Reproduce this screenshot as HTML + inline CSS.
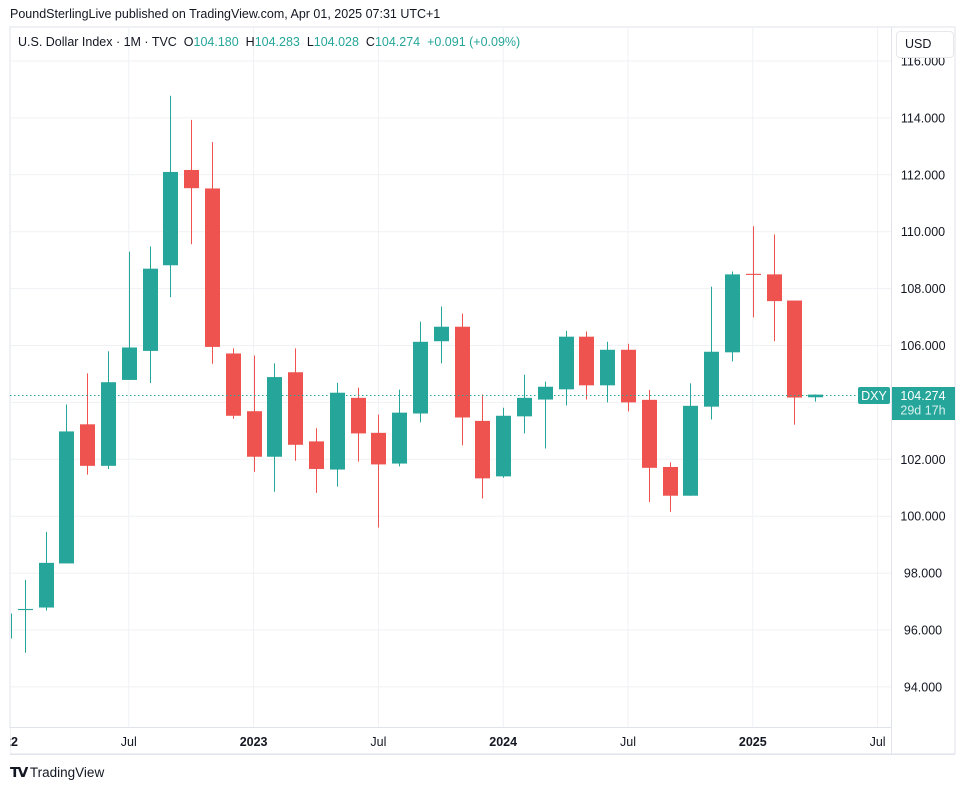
<!DOCTYPE html>
<html><head><meta charset="utf-8"><style>
body{margin:0;background:#fff;font-family:"Liberation Sans",sans-serif;}
#wrap{position:relative;width:969px;height:790px;overflow:hidden;background:#fff}
.t{position:absolute;white-space:nowrap}
</style></head><body>
<div id="wrap">
<div class="t" style="left:10px;top:7px;font-size:12.5px;color:#131722">PoundSterlingLive published on TradingView.com, Apr 01, 2025 07:31 UTC+1</div>
<svg id="c" width="969" height="790" style="position:absolute;left:0;top:0"></svg>
<div class="t" style="left:18px;top:35px;font-size:12.5px;color:#131722">U.S. Dollar Index · 1M · TVC&nbsp; O<span style="color:#26a69a">104.180</span>&nbsp; H<span style="color:#26a69a">104.283</span>&nbsp; L<span style="color:#26a69a">104.028</span>&nbsp; C<span style="color:#26a69a">104.274&nbsp; +0.091 (+0.09%)</span></div>
<div class="t" style="left:896px;top:31px;width:56px;height:25px;border:1px solid #e8e8ec;border-radius:4px;background:#fff;font-size:12.5px;color:#131722;line-height:25px;text-indent:8px">USD</div>
<div class="t" style="left:10px;top:764px;font-size:13.5px;color:#131722"><b style="font-size:14px;letter-spacing:-2px">𝗧𝗩</b> TradingView</div>
</div>
<script>
const months=["Jan22","Feb22","Mar22","Apr22","May22","Jun22","Jul22","Aug22","Sep22","Oct22","Nov22","Dec22","Jan23","Feb23","Mar23","Apr23","May23","Jun23","Jul23","Aug23","Sep23","Oct23","Nov23","Dec23","Jan24","Feb24","Mar24","Apr24","May24","Jun24","Jul24","Aug24","Sep24","Oct24","Nov24","Dec24","Jan25","Feb25","Mar25","Apr25"];
const opens=[95.7,96.7,96.79,98.34,103.23,101.77,104.79,105.81,108.82,112.17,111.52,105.72,103.69,102.09,105.06,102.63,101.64,104.16,102.93,101.85,103.61,106.15,106.66,103.35,101.4,103.51,104.1,104.46,106.31,104.6,105.85,104.09,101.73,100.72,103.85,105.76,108.52,108.5,107.58,104.18];
const highs=[96.7,97.76,99.45,103.93,105.02,105.8,109.3,109.48,114.78,113.93,113.15,105.9,105.65,105.37,105.9,103.09,104.69,104.52,103.57,104.45,106.84,107.37,107.12,104.28,103.81,104.97,104.73,106.52,106.49,106.13,106.06,104.44,101.89,104.67,108.07,108.6,110.19,109.9,107.58,104.283];
const lows=[95.6,95.2,96.68,98.34,101.46,101.66,104.79,104.68,107.7,109.56,105.36,103.42,101.56,100.86,101.95,100.82,101.04,101.92,99.6,101.75,103.3,105.37,102.49,100.62,101.35,102.91,102.38,103.89,104.1,104.0,103.68,100.5,100.15,100.72,103.4,105.44,106.99,106.15,103.22,104.028];
const closes=[96.58,96.74,98.36,102.98,101.77,104.71,105.93,108.7,112.1,111.53,105.95,103.53,102.09,104.89,102.51,101.66,104.34,102.91,101.82,103.64,106.13,106.66,103.47,101.33,103.53,104.16,104.55,106.31,104.6,105.85,104.0,101.7,100.72,103.88,105.78,108.5,108.48,107.56,104.17,104.274];
const yTicks=[116,114,112,110,108,106,104,102,100,98,96,94];
const xLabels=[{i:0,t:"2022",b:1},{i:6,t:"Jul"},{i:12,t:"2023",b:1},{i:18,t:"Jul"},{i:24,t:"2024",b:1},{i:30,t:"Jul"},{i:36,t:"2025",b:1},{i:42,t:"Jul"}];
const lastPrice=104.274;
const L=10,R=891,T=27,B=727;
const y=p=>61+(116-p)*28.45;
const x=i=>4+i*20.8;
const svg=document.getElementById('c');const NS="http://www.w3.org/2000/svg";
function mk(tag,a,parent){const e=document.createElementNS(NS,tag);for(const k in a)e.setAttribute(k,a[k]);(parent||svg).appendChild(e);return e;}
// frame
mk('rect',{x:L,y:T,width:945,height:727,fill:'none',stroke:'#e0e3eb'});
const defs=mk('defs',{});const cp=mk('clipPath',{id:'pc'},defs);mk('rect',{x:L+1,y:T,width:R-L-1,height:B-T},cp);
const grid=mk('g',{});


yTicks.forEach(p=>{mk('line',{x1:L,x2:R,y1:y(p),y2:y(p),stroke:'#f0f1f4'},grid);
 const t=mk('text',{x:923,y:y(p)+4.5,'font-size':12.5,fill:'#131722','text-anchor':'middle'});t.textContent=p.toFixed(3);
 
 });
xLabels.forEach(l=>{const xx=x(l.i);if(xx>L&&xx<R)mk('line',{x1:xx,x2:xx,y1:T,y2:B,stroke:'#f0f1f4'},grid);
 const t=mk('text',{x:xx,y:746,'font-size':12.5,fill:'#131722','text-anchor':'middle','font-weight':l.b?'bold':'normal'});t.textContent=l.t;
 
 });
mk('rect',{x:0,y:728,width:L,height:30,fill:'#fff'});
mk('rect',{x:0,y:755,width:969,height:40,fill:'#fff'});
mk('line',{x1:L,x2:R,y1:B+0.5,y2:B+0.5,stroke:'#e0e3eb'});
mk('line',{x1:R+0.5,x2:R+0.5,y1:T,y2:754,stroke:'#e0e3eb'});
mk('line',{x1:L,x2:955,y1:754.5,y2:754.5,stroke:'#e0e3eb'});
// candles
const cg=mk('g',{'clip-path':'url(#pc)'});


months.forEach((m,i)=>{const up=closes[i]>=opens[i];const col=up?'#26a69a':'#ef5350';const cx=Math.round(x(i))+0.5;
 const g=mk('g',{},cg);
 
 
 mk('line',{x1:cx,x2:cx,y1:y(highs[i]),y2:y(lows[i]),stroke:col,'stroke-width':1},g);
 const t=y(Math.max(opens[i],closes[i])),b=y(Math.min(opens[i],closes[i]));
 mk('rect',{x:cx-7.5,y:t,width:15,height:Math.max(1,b-t),fill:col},g);});
// last price line
const ly=Math.round(y(lastPrice))+0.5;
const pl=mk('line',{x1:L,x2:857,y1:ly,y2:ly,stroke:'#26a69a','stroke-dasharray':'1.5 2.5'});


const sb=mk('rect',{x:858,y:ly-8.5,width:32,height:17,fill:'#26a69a',rx:2});


const st=mk('text',{x:874,y:ly+4.5,'font-size':12.5,fill:'#fff','text-anchor':'middle'});st.textContent='DXY';
const pb=mk('rect',{x:892,y:ly-8.5,width:63,height:33,fill:'#26a69a'});


const pt=mk('text',{x:923,y:ly+4.5,'font-size':12.5,fill:'#fff','text-anchor':'middle'});pt.textContent=lastPrice.toFixed(3);
const ct=mk('text',{x:923,y:ly+19,'font-size':12.5,fill:'#d8f0ed','text-anchor':'middle'});ct.textContent='29d 17h';
</script>
</body></html>
